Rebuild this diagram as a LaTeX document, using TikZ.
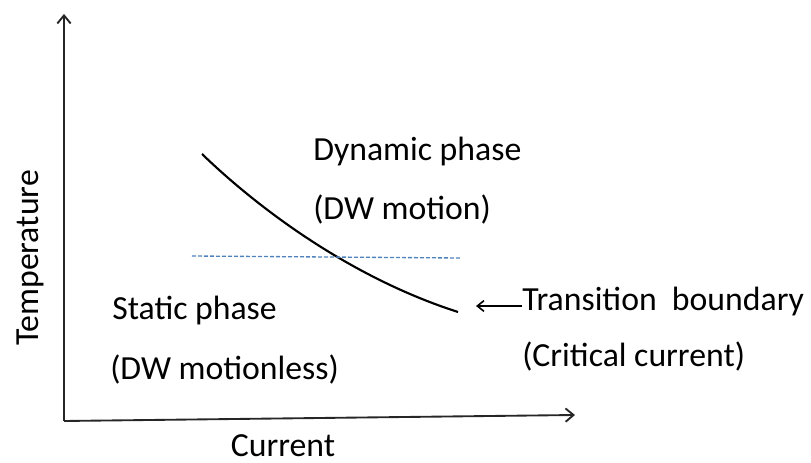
\documentclass[tikz,border=0pt]{standalone}
\usepackage{fontspec}
\setmainfont{Carlito}
\usetikzlibrary{arrows.meta}
\definecolor{dashblue}{RGB}{79,129,189}
\tikzset{axis/.style={black!85, line width=1.4pt, -{Straight Barb[length=6pt,width=10pt,line width=1.4pt]}},
         every node/.style={font=\fontsize{25.3}{28}\selectfont, inner sep=0pt}}

\begin{document}
\begin{tikzpicture}[x=0.75pt,y=-0.75pt]
  \useasboundingbox (0,0) rectangle (811,463);
  \coordinate (o) at (64,421);
  \coordinate (ytip) at (64,14);
  \coordinate (xtip) at (575,415);
  \draw[axis] (o) -- (ytip);
  \draw[axis] (o) -- (xtip);
  \node (temp) at (30,258) [rotate=90] {Temperature};
  \node (cur) at (283,446) {Current};
  % boundary
  \coordinate (c1) at (202,154);
  \coordinate (c2) at (458,312);
  \draw[black, line width=1.6pt] (c1) .. controls (260,210) and (352,278) .. (c2);
  \coordinate (d1) at (192,256);
  \coordinate (d2) at (460,258);
  \draw[dashblue, line width=1pt, dash pattern=on 3pt off 1.5pt] (d1) -- (d2);
  % labels
  \node[anchor=west] (dyn) at (313,152) {Dynamic phase};
  \node[anchor=west] (dwm) at (313,210) {(DW motion)};
  \node[anchor=west] (sta) at (112,311) {Static phase};
  \node[anchor=west] (dwl) at (110,370) {(DW motionless)};
  \node[anchor=west] (tb) at (522,302) {Transition\ \ boundary};
  \node[anchor=west] (cc) at (522,357) {(Critical current)};
  \coordinate (tbtip) at (476,306);
  \draw[black, line width=1.2pt, -{Straight Barb[length=5pt,width=8pt,line width=1.2pt]}] (tb.west |- tbtip) -- (tbtip);
\end{tikzpicture}
\end{document}
